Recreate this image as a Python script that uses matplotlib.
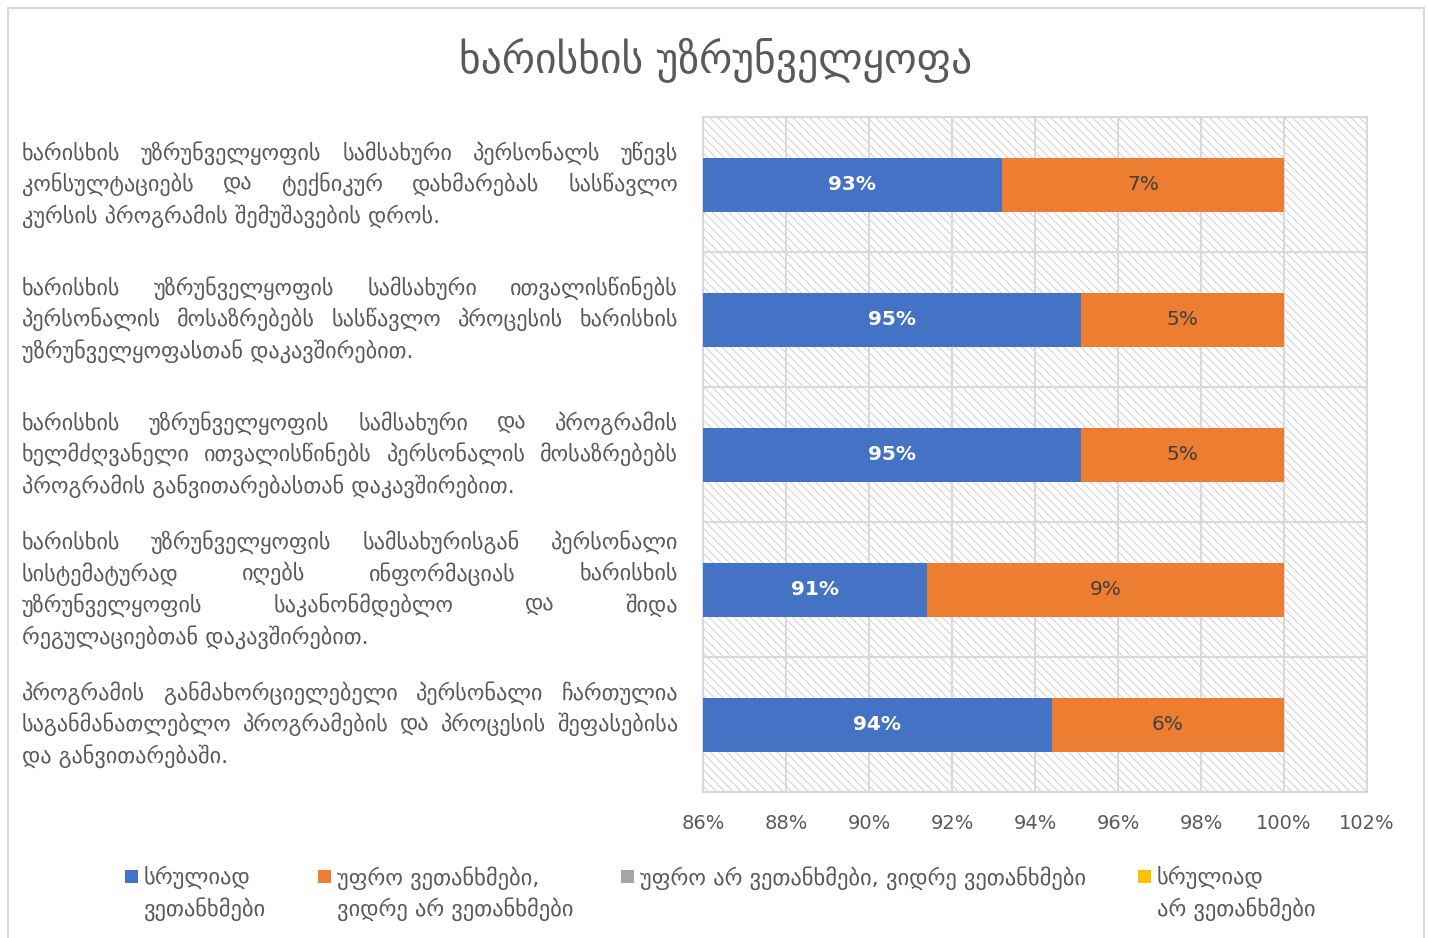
import numpy as np
import matplotlib
matplotlib.use('Agg')
import matplotlib.pyplot as plt
from matplotlib.patches import Rectangle

# ---------------------------------------------------------
# Data
# ---------------------------------------------------------

title = 'ხარისხის უზრუნველყოფა'

# category labels, already broken into lines (top to bottom)
categories = [
    ['ხარისხის უზრუნველყოფის სამსახური პერსონალს უწევს',
     'კონსულტაციებს და ტექნიკურ დახმარებას სასწავლო',
     'კურსის პროგრამის შემუშავების დროს.'],
    ['ხარისხის უზრუნველყოფის სამსახური ითვალისწინებს',
     'პერსონალის მოსაზრებებს სასწავლო პროცესის ხარისხის',
     'უზრუნველყოფასთან დაკავშირებით.'],
    ['ხარისხის უზრუნველყოფის სამსახური და პროგრამის',
     'ხელმძღვანელი ითვალისწინებს პერსონალის მოსაზრებებს',
     'პროგრამის განვითარებასთან დაკავშირებით.'],
    ['ხარისხის უზრუნველყოფის სამსახურისგან პერსონალი',
     'სისტემატურად იღებს ინფორმაციას ხარისხის',
     'უზრუნველყოფის საკანონმდებლო და შიდა',
     'რეგულაციებთან დაკავშირებით.'],
    ['პროგრამის განმახორციელებელი პერსონალი ჩართულია',
     'საგანმანათლებლო პროგრამების და პროცესის შეფასებისა',
     'და განვითარებაში.'],
]

fully_agree = [0.932, 0.951, 0.951, 0.914, 0.944]
rather_agree = [0.068, 0.049, 0.049, 0.086, 0.056]
rather_disagree = [0.0, 0.0, 0.0, 0.0, 0.0]
fully_disagree = [0.0, 0.0, 0.0, 0.0, 0.0]

series_names = ['სრულიად\nვეთანხმები',
                'უფრო ვეთანხმები,\nვიდრე არ ვეთანხმები',
                'უფრო არ ვეთანხმები, ვიდრე ვეთანხმები',
                'სრულიად\nარ ვეთანხმები']
series_colors = ['#4472C4', '#ED7D31', '#A5A5A5', '#FFC000']

xticks = [0.86, 0.88, 0.90, 0.92, 0.94, 0.96, 0.98, 1.00, 1.02]

# ---------------------------------------------------------
# Figure
# ---------------------------------------------------------

plt.rcParams['font.family'] = ['DejaVu Sans']
plt.rcParams['hatch.linewidth'] = 0.6

W, H = 1429, 938
fig = plt.figure(figsize=(W / 100, H / 100), dpi=100)

TEXT = '#595959'
GRID = '#d9d9d9'

# outer chart border
fig.patches.append(Rectangle((8 / W, -0.05), (1424 - 8) / W, 1.05 - 8 / H,
                             transform=fig.transFigure, facecolor='none',
                             edgecolor=GRID, linewidth=1.5))

fig.text(716 / W, 1 - 60 / H, title, ha='center', va='center',
         fontsize=30, color=TEXT)

ax = fig.add_axes([703 / W, 1 - 792 / H, (1367 - 703) / W, (792 - 117) / H])

# hatched plot area background
ax.add_patch(Rectangle((0, 0), 1, 1, transform=ax.transAxes, facecolor='white',
                       edgecolor='#c9c9c9', hatch='\\' * 4, linewidth=0, zorder=0))

y = np.arange(len(categories))
series = [fully_agree, rather_agree, rather_disagree, fully_disagree]
left = np.zeros(len(categories))
for vals, col in zip(series, series_colors):
    ax.barh(y, vals, left=left, height=0.4, color=col, zorder=3)
    left = left + np.array(vals)

ax.set_xlim(xticks[0], xticks[-1])
ax.set_ylim(len(categories) - 0.5, -0.5)
ax.set_xticks(xticks)
ax.set_xticklabels([f'{int(round(t * 100))}%' for t in xticks])
ax.set_yticks(np.arange(len(categories) + 1) - 0.5, minor=True)
ax.set_yticks([])
ax.tick_params(axis='x', length=0, pad=16, labelsize=14, labelcolor=TEXT)
ax.tick_params(axis='y', which='both', length=0)
ax.grid(axis='x', color=GRID, linewidth=1.5, zorder=1)
ax.grid(axis='y', which='minor', color=GRID, linewidth=1.5, zorder=1)
ax.set_axisbelow(True)
for s in ax.spines.values():
    s.set_color(GRID)
    s.set_linewidth(1.5)

# data labels centred on the visible part of each segment
for i in range(len(categories)):
    a = fully_agree[i]
    b = rather_agree[i]
    ax.text((xticks[0] + a) / 2, i, f'{round(a * 100)}%', ha='center', va='center',
            color='white', fontsize=14.5, fontweight='bold', zorder=4)
    ax.text(a + b / 2, i, f'{round(b * 100)}%', ha='center', va='center',
            color='#404040', fontsize=14.5, zorder=4)

# ---------------------------------------------------------
# Justified category labels on the left
# ---------------------------------------------------------

fig.canvas.draw()
renderer = fig.canvas.get_renderer()

LBL_SIZE = 16
x0, x1 = 22, 678
line_h = 31.5


def text_width(s):
    t = fig.text(0, 0, s, fontsize=LBL_SIZE)
    w = t.get_window_extent(renderer).width
    t.remove()
    return w


for i, lines in enumerate(categories):
    yc = ax.transData.transform((0, i))[1]
    n = len(lines)
    for k, line in enumerate(lines):
        ypix = yc + ((n - 1) / 2 - k) * line_h
        words = line.split(' ')
        last = (k == n - 1)
        if last or len(words) == 1:
            fig.text(x0 / W, ypix / H, line, fontsize=LBL_SIZE, color=TEXT,
                     ha='left', va='center')
            continue
        widths = [text_width(w) for w in words]
        gap = (x1 - x0 - sum(widths)) / (len(words) - 1)
        xp = x0
        for w, wd in zip(words, widths):
            fig.text(xp / W, ypix / H, w, fontsize=LBL_SIZE, color=TEXT,
                     ha='left', va='center')
            xp += wd + gap

# ---------------------------------------------------------
# Legend
# ---------------------------------------------------------

leg_x = [125, 318, 621, 1138]
for name, col, lx in zip(series_names, series_colors, leg_x):
    fig.patches.append(Rectangle((lx / W, 1 - 883 / H), 13 / W, 13 / H,
                                 transform=fig.transFigure, facecolor=col,
                                 edgecolor='none'))
    fig.text((lx + 19) / W, 1 - 866 / H, name, fontsize=16.2, color=TEXT,
             ha='left', va='top', linespacing=1.4)

fig.savefig('out.png', dpi=100)
